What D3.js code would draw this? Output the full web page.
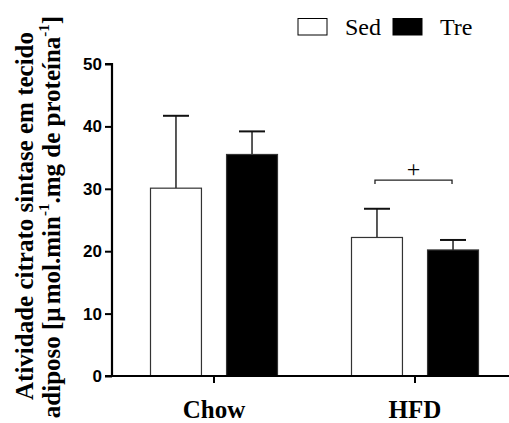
<!DOCTYPE html>
<html>
<head>
<meta charset="utf-8">
<script src="https://cdn.jsdelivr.net/npm/d3@7"></script>
<style>
  html, body { margin: 0; padding: 0; background: #fff; }
  svg { display: block; }
</style>
</head>
<body>
<div id="chart"></div>
<script>
// data
const groups = ['Chow', 'HFD'];
const series = ['Sed', 'Tre'];
const means = [[30.1, 35.5], [22.2, 20.2]];
const errors = [[11.6, 3.7], [4.6, 1.6]];
const yTicks = [0, 10, 20, 30, 40, 50];
const fills = ['#fff', '#000'];

const W = 509, H = 423;
const serif = '"Liberation Serif", "Times New Roman", serif';
const sans = '"Liberation Sans", Arial, sans-serif';

const svg = d3.select('#chart').append('svg')
  .attr('width', W)
  .attr('height', H);

const y = d3.scaleLinear().domain([0, 50]).range([376, 64]);
const x0 = d3.scaleBand().domain(groups).range([113.5, 515.5]);
const x1 = d3.scaleBand().domain(series).range([37, 164]).paddingInner(0.33);

// bars
const g = svg.append('g');
groups.forEach((grp, i) => {
  const gg = g.append('g').attr('transform', `translate(${x0(grp)},0)`);
  series.forEach((s, j) => {
    const cx = x1(s) + x1.bandwidth() / 2;
    const top = y(means[i][j] + errors[i][j]);
    // error bar
    gg.append('line')
      .attr('x1', cx).attr('x2', cx)
      .attr('y1', y(means[i][j])).attr('y2', top)
      .attr('stroke', '#222').attr('stroke-width', 1.5);
    gg.append('line')
      .attr('x1', cx - 13).attr('x2', cx + 13)
      .attr('y1', top).attr('y2', top)
      .attr('stroke', '#111').attr('stroke-width', 2);
    gg.append('rect')
      .attr('x', x1(s))
      .attr('y', y(means[i][j]))
      .attr('width', x1.bandwidth())
      .attr('height', y(0) - y(means[i][j]))
      .attr('fill', fills[j])
      .attr('stroke', '#333')
      .attr('stroke-width', 1.2);
  });
});

// y axis
const yAxis = svg.append('g')
  .attr('transform', 'translate(112,0)')
  .call(d3.axisLeft(y).tickValues(yTicks).tickSize(7).tickPadding(3));
yAxis.select('.domain').attr('d', `M-7,${y(50)}H0V${y(0)}`).attr('stroke-width', 2.2);
yAxis.selectAll('.tick line').attr('stroke-width', 2);
yAxis.selectAll('.tick text')
  .attr('font-family', sans).attr('font-size', 17).attr('font-weight', 'bold')
  .attr('fill', '#000');

// x axis
svg.append('line')
  .attr('x1', 105).attr('x2', W)
  .attr('y1', y(0)).attr('y2', y(0))
  .attr('stroke', '#000').attr('stroke-width', 2.2);
groups.forEach(grp => {
  const cx = x0(grp) + x0.bandwidth() / 2;
  svg.append('line')
    .attr('x1', cx).attr('x2', cx)
    .attr('y1', y(0)).attr('y2', y(0) + 7)
    .attr('stroke', '#000').attr('stroke-width', 2);
  svg.append('text')
    .attr('x', cx).attr('y', 418)
    .attr('text-anchor', 'middle')
    .attr('font-family', serif).attr('font-size', 25).attr('font-weight', 'bold')
    .text(grp);
});

// significance bracket over HFD
const hx = x0('HFD');
const bxa = hx + x1('Sed') + x1.bandwidth() / 2 - 2;
const bxb = hx + x1('Tre') + x1.bandwidth() / 2 - 1;
const by = y(31.4);
svg.append('path')
  .attr('d', `M${bxa},${by + 4}V${by}H${bxb}V${by + 4}`)
  .attr('fill', 'none').attr('stroke', '#222').attr('stroke-width', 1.3);
svg.append('text')
  .attr('x', (bxa + bxb) / 2).attr('y', by - 3)
  .attr('text-anchor', 'middle')
  .attr('font-family', serif).attr('font-size', 24)
  .text('+');

// legend
const legend = svg.append('g');
const legX = [298, 393];
series.forEach((s, j) => {
  legend.append('rect')
    .attr('x', legX[j]).attr('y', 18.5)
    .attr('width', 29).attr('height', 16.5)
    .attr('fill', fills[j]).attr('stroke', '#000').attr('stroke-width', 1);
  legend.append('text')
    .attr('x', legX[j] + 47).attr('y', 35)
    .attr('font-family', serif).attr('font-size', 24)
    .text(s);
});

// y label, two lines
const yl = svg.append('g')
  .attr('font-family', serif).attr('font-size', 25).attr('font-weight', 'bold')
  .attr('text-anchor', 'middle');
yl.append('text')
  .attr('transform', 'translate(33,216) rotate(-90)')
  .text('Atividade citrato sintase em tecido');
const l2 = yl.append('text')
  .attr('transform', 'translate(60,217) rotate(-90)');
l2.append('tspan').text('adiposo [µ');
l2.append('tspan').attr('dx', 3).text('mol.min');
l2.append('tspan').attr('font-size', 15).attr('dy', -11).text('-1');
l2.append('tspan').attr('dy', 11).text('.mg de proteína');
l2.append('tspan').attr('font-size', 15).attr('dy', -11).text('-1');
l2.append('tspan').attr('dy', 11).text(']');
</script>
</body>
</html>
